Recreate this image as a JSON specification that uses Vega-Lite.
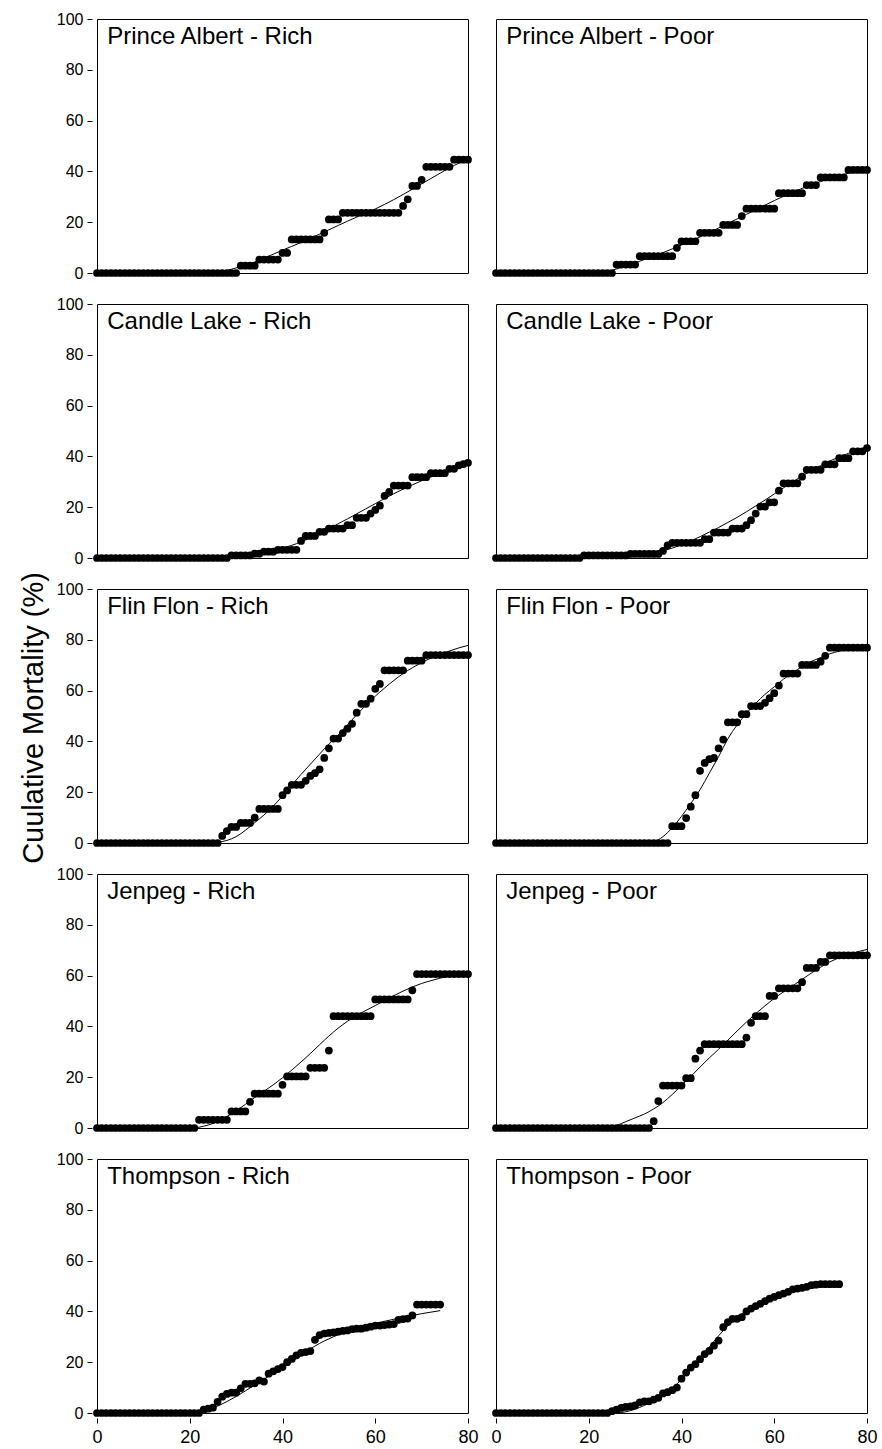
{
"$schema": "https://vega.github.io/schema/vega-lite/v6.json",
"background": "white",
"padding": {"left": 19, "top": 11, "right": 5, "bottom": 2},
"data": {"values": [
{"s":"PA","g":"R","t":"Prince Albert - Rich"},
{"s":"PA","g":"P","t":"Prince Albert - Poor"},
{"s":"CL","g":"R","t":"Candle Lake - Rich"},
{"s":"CL","g":"P","t":"Candle Lake - Poor"},
{"s":"FF","g":"R","t":"Flin Flon - Rich"},
{"s":"FF","g":"P","t":"Flin Flon - Poor"},
{"s":"JP","g":"R","t":"Jenpeg - Rich"},
{"s":"JP","g":"P","t":"Jenpeg - Poor"},
{"s":"TH","g":"R","t":"Thompson - Rich"},
{"s":"TH","g":"P","t":"Thompson - Poor"},
{"s":"PA","g":"R","d":0,"m":0,"f":0},{"s":"PA","g":"R","d":1,"m":0},{"s":"PA","g":"R","d":2,"m":0,"f":0},{"s":"PA","g":"R","d":3,"m":0},{"s":"PA","g":"R","d":4,"m":0,"f":0},{"s":"PA","g":"R","d":5,"m":0},{"s":"PA","g":"R","d":6,"m":0,"f":0},{"s":"PA","g":"R","d":7,"m":0},{"s":"PA","g":"R","d":8,"m":0,"f":0},{"s":"PA","g":"R","d":9,"m":0},{"s":"PA","g":"R","d":10,"m":0,"f":0},{"s":"PA","g":"R","d":11,"m":0},{"s":"PA","g":"R","d":12,"m":0,"f":0},{"s":"PA","g":"R","d":13,"m":0},{"s":"PA","g":"R","d":14,"m":0,"f":0},{"s":"PA","g":"R","d":15,"m":0},{"s":"PA","g":"R","d":16,"m":0,"f":0},{"s":"PA","g":"R","d":17,"m":0},{"s":"PA","g":"R","d":18,"m":0,"f":0},{"s":"PA","g":"R","d":19,"m":0},{"s":"PA","g":"R","d":20,"m":0,"f":0},{"s":"PA","g":"R","d":21,"m":0},{"s":"PA","g":"R","d":22,"m":0,"f":0},{"s":"PA","g":"R","d":23,"m":0},{"s":"PA","g":"R","d":24,"m":0,"f":0},{"s":"PA","g":"R","d":25,"m":0},{"s":"PA","g":"R","d":26,"m":0,"f":0.4},{"s":"PA","g":"R","d":27,"m":0},{"s":"PA","g":"R","d":28,"m":0,"f":1},{"s":"PA","g":"R","d":29,"m":0},{"s":"PA","g":"R","d":30,"m":0,"f":2},{"s":"PA","g":"R","d":31,"m":2.9},{"s":"PA","g":"R","d":32,"m":2.9,"f":3},{"s":"PA","g":"R","d":33,"m":2.9},{"s":"PA","g":"R","d":34,"m":2.9,"f":4.3},{"s":"PA","g":"R","d":35,"m":5.3},{"s":"PA","g":"R","d":36,"m":5.3,"f":5.8},{"s":"PA","g":"R","d":37,"m":5.3},{"s":"PA","g":"R","d":38,"m":5.3,"f":7.4},{"s":"PA","g":"R","d":39,"m":5.3},{"s":"PA","g":"R","d":40,"m":7.9,"f":9},{"s":"PA","g":"R","d":41,"m":7.9},{"s":"PA","g":"R","d":42,"m":13.2,"f":10.5},{"s":"PA","g":"R","d":43,"m":13.2},{"s":"PA","g":"R","d":44,"m":13.2,"f":12},{"s":"PA","g":"R","d":45,"m":13.2},{"s":"PA","g":"R","d":46,"m":13.2,"f":13.7},{"s":"PA","g":"R","d":47,"m":13.2},{"s":"PA","g":"R","d":48,"m":13.2,"f":15.3},{"s":"PA","g":"R","d":49,"m":15.8},{"s":"PA","g":"R","d":50,"m":21.1,"f":17},{"s":"PA","g":"R","d":51,"m":21.1},{"s":"PA","g":"R","d":52,"m":21.1,"f":18.7},{"s":"PA","g":"R","d":53,"m":23.7},{"s":"PA","g":"R","d":54,"m":23.7,"f":20.4},{"s":"PA","g":"R","d":55,"m":23.7},{"s":"PA","g":"R","d":56,"m":23.7,"f":22},{"s":"PA","g":"R","d":57,"m":23.7},{"s":"PA","g":"R","d":58,"m":23.7,"f":23.6},{"s":"PA","g":"R","d":59,"m":23.7},{"s":"PA","g":"R","d":60,"m":23.7,"f":25.2},{"s":"PA","g":"R","d":61,"m":23.7},{"s":"PA","g":"R","d":62,"m":23.7,"f":27},{"s":"PA","g":"R","d":63,"m":23.7},{"s":"PA","g":"R","d":64,"m":23.7,"f":28.9},{"s":"PA","g":"R","d":65,"m":23.7},{"s":"PA","g":"R","d":66,"m":26.4,"f":30.9},{"s":"PA","g":"R","d":67,"m":29},{"s":"PA","g":"R","d":68,"m":34.3,"f":33},{"s":"PA","g":"R","d":69,"m":34.3},{"s":"PA","g":"R","d":70,"m":36.7,"f":35.1},{"s":"PA","g":"R","d":71,"m":41.8},{"s":"PA","g":"R","d":72,"m":41.8,"f":37.2},{"s":"PA","g":"R","d":73,"m":41.8},{"s":"PA","g":"R","d":74,"m":41.8,"f":39.3},{"s":"PA","g":"R","d":75,"m":41.8},{"s":"PA","g":"R","d":76,"m":41.8,"f":41.4},{"s":"PA","g":"R","d":77,"m":44.6},{"s":"PA","g":"R","d":78,"m":44.6,"f":43.2},{"s":"PA","g":"R","d":79,"m":44.6},{"s":"PA","g":"R","d":80,"m":44.6,"f":44.8},
{"s":"PA","g":"P","d":0,"m":0,"f":0},{"s":"PA","g":"P","d":1,"m":0},{"s":"PA","g":"P","d":2,"m":0,"f":0},{"s":"PA","g":"P","d":3,"m":0},{"s":"PA","g":"P","d":4,"m":0,"f":0},{"s":"PA","g":"P","d":5,"m":0},{"s":"PA","g":"P","d":6,"m":0,"f":0},{"s":"PA","g":"P","d":7,"m":0},{"s":"PA","g":"P","d":8,"m":0,"f":0},{"s":"PA","g":"P","d":9,"m":0},{"s":"PA","g":"P","d":10,"m":0,"f":0},{"s":"PA","g":"P","d":11,"m":0},{"s":"PA","g":"P","d":12,"m":0,"f":0},{"s":"PA","g":"P","d":13,"m":0},{"s":"PA","g":"P","d":14,"m":0,"f":0},{"s":"PA","g":"P","d":15,"m":0},{"s":"PA","g":"P","d":16,"m":0,"f":0},{"s":"PA","g":"P","d":17,"m":0},{"s":"PA","g":"P","d":18,"m":0,"f":0},{"s":"PA","g":"P","d":19,"m":0},{"s":"PA","g":"P","d":20,"m":0,"f":0},{"s":"PA","g":"P","d":21,"m":0},{"s":"PA","g":"P","d":22,"m":0,"f":0},{"s":"PA","g":"P","d":23,"m":0},{"s":"PA","g":"P","d":24,"m":0,"f":0.5},{"s":"PA","g":"P","d":25,"m":0},{"s":"PA","g":"P","d":26,"m":3.3,"f":1.6},{"s":"PA","g":"P","d":27,"m":3.3},{"s":"PA","g":"P","d":28,"m":3.3,"f":2.8},{"s":"PA","g":"P","d":29,"m":3.3},{"s":"PA","g":"P","d":30,"m":3.3,"f":4},{"s":"PA","g":"P","d":31,"m":6.6},{"s":"PA","g":"P","d":32,"m":6.6,"f":5.3},{"s":"PA","g":"P","d":33,"m":6.6},{"s":"PA","g":"P","d":34,"m":6.6,"f":6.6},{"s":"PA","g":"P","d":35,"m":6.6},{"s":"PA","g":"P","d":36,"m":6.6,"f":8},{"s":"PA","g":"P","d":37,"m":6.6},{"s":"PA","g":"P","d":38,"m":6.6,"f":9.5},{"s":"PA","g":"P","d":39,"m":9.9},{"s":"PA","g":"P","d":40,"m":12.5,"f":11},{"s":"PA","g":"P","d":41,"m":12.5},{"s":"PA","g":"P","d":42,"m":12.5,"f":12.6},{"s":"PA","g":"P","d":43,"m":12.5},{"s":"PA","g":"P","d":44,"m":15.8,"f":14.2},{"s":"PA","g":"P","d":45,"m":15.8},{"s":"PA","g":"P","d":46,"m":15.8,"f":15.9},{"s":"PA","g":"P","d":47,"m":15.8},{"s":"PA","g":"P","d":48,"m":15.8,"f":17.7},{"s":"PA","g":"P","d":49,"m":18.9},{"s":"PA","g":"P","d":50,"m":18.9,"f":19.5},{"s":"PA","g":"P","d":51,"m":18.9},{"s":"PA","g":"P","d":52,"m":18.9,"f":21.3},{"s":"PA","g":"P","d":53,"m":22.4},{"s":"PA","g":"P","d":54,"m":25.3,"f":23.1},{"s":"PA","g":"P","d":55,"m":25.3},{"s":"PA","g":"P","d":56,"m":25.3,"f":24.9},{"s":"PA","g":"P","d":57,"m":25.3},{"s":"PA","g":"P","d":58,"m":25.3,"f":26.7},{"s":"PA","g":"P","d":59,"m":25.3},{"s":"PA","g":"P","d":60,"m":25.3,"f":28.5},{"s":"PA","g":"P","d":61,"m":31.4},{"s":"PA","g":"P","d":62,"m":31.4,"f":30.2},{"s":"PA","g":"P","d":63,"m":31.4},{"s":"PA","g":"P","d":64,"m":31.4,"f":31.8},{"s":"PA","g":"P","d":65,"m":31.4},{"s":"PA","g":"P","d":66,"m":31.4,"f":33.3},{"s":"PA","g":"P","d":67,"m":34.6},{"s":"PA","g":"P","d":68,"m":34.6,"f":34.7},{"s":"PA","g":"P","d":69,"m":34.6},{"s":"PA","g":"P","d":70,"m":37.6,"f":36},{"s":"PA","g":"P","d":71,"m":37.6},{"s":"PA","g":"P","d":72,"m":37.6,"f":37.2},{"s":"PA","g":"P","d":73,"m":37.6},{"s":"PA","g":"P","d":74,"m":37.6,"f":38.3},{"s":"PA","g":"P","d":75,"m":37.6},{"s":"PA","g":"P","d":76,"m":40.6,"f":39.3},{"s":"PA","g":"P","d":77,"m":40.6},{"s":"PA","g":"P","d":78,"m":40.6,"f":40.2},{"s":"PA","g":"P","d":79,"m":40.6},{"s":"PA","g":"P","d":80,"m":40.6,"f":41},
{"s":"CL","g":"R","d":0,"m":0,"f":0},{"s":"CL","g":"R","d":1,"m":0},{"s":"CL","g":"R","d":2,"m":0,"f":0},{"s":"CL","g":"R","d":3,"m":0},{"s":"CL","g":"R","d":4,"m":0,"f":0},{"s":"CL","g":"R","d":5,"m":0},{"s":"CL","g":"R","d":6,"m":0,"f":0},{"s":"CL","g":"R","d":7,"m":0},{"s":"CL","g":"R","d":8,"m":0,"f":0},{"s":"CL","g":"R","d":9,"m":0},{"s":"CL","g":"R","d":10,"m":0,"f":0},{"s":"CL","g":"R","d":11,"m":0},{"s":"CL","g":"R","d":12,"m":0,"f":0},{"s":"CL","g":"R","d":13,"m":0},{"s":"CL","g":"R","d":14,"m":0,"f":0},{"s":"CL","g":"R","d":15,"m":0},{"s":"CL","g":"R","d":16,"m":0,"f":0},{"s":"CL","g":"R","d":17,"m":0},{"s":"CL","g":"R","d":18,"m":0,"f":0},{"s":"CL","g":"R","d":19,"m":0},{"s":"CL","g":"R","d":20,"m":0,"f":0},{"s":"CL","g":"R","d":21,"m":0},{"s":"CL","g":"R","d":22,"m":0,"f":0},{"s":"CL","g":"R","d":23,"m":0},{"s":"CL","g":"R","d":24,"m":0,"f":0},{"s":"CL","g":"R","d":25,"m":0},{"s":"CL","g":"R","d":26,"m":0,"f":0},{"s":"CL","g":"R","d":27,"m":0},{"s":"CL","g":"R","d":28,"m":0,"f":0.2},{"s":"CL","g":"R","d":29,"m":1},{"s":"CL","g":"R","d":30,"m":1,"f":0.5},{"s":"CL","g":"R","d":31,"m":1},{"s":"CL","g":"R","d":32,"m":1,"f":0.9},{"s":"CL","g":"R","d":33,"m":1},{"s":"CL","g":"R","d":34,"m":1.7,"f":1.5},{"s":"CL","g":"R","d":35,"m":1.7},{"s":"CL","g":"R","d":36,"m":2.5,"f":2.3},{"s":"CL","g":"R","d":37,"m":2.5},{"s":"CL","g":"R","d":38,"m":2.5,"f":3.1},{"s":"CL","g":"R","d":39,"m":3.2},{"s":"CL","g":"R","d":40,"m":3.2,"f":3.9},{"s":"CL","g":"R","d":41,"m":3.2},{"s":"CL","g":"R","d":42,"m":3.2,"f":5},{"s":"CL","g":"R","d":43,"m":3.2},{"s":"CL","g":"R","d":44,"m":6.7,"f":6.3},{"s":"CL","g":"R","d":45,"m":8.7},{"s":"CL","g":"R","d":46,"m":8.7,"f":7.9},{"s":"CL","g":"R","d":47,"m":8.7},{"s":"CL","g":"R","d":48,"m":10.3,"f":9.6},{"s":"CL","g":"R","d":49,"m":10.3},{"s":"CL","g":"R","d":50,"m":11.6,"f":11.5},{"s":"CL","g":"R","d":51,"m":11.6},{"s":"CL","g":"R","d":52,"m":11.6,"f":13.5},{"s":"CL","g":"R","d":53,"m":11.6},{"s":"CL","g":"R","d":54,"m":12.9,"f":15.4},{"s":"CL","g":"R","d":55,"m":12.9},{"s":"CL","g":"R","d":56,"m":15.8,"f":17.4},{"s":"CL","g":"R","d":57,"m":15.8},{"s":"CL","g":"R","d":58,"m":15.8,"f":19.4},{"s":"CL","g":"R","d":59,"m":17.5},{"s":"CL","g":"R","d":60,"m":18.9,"f":21.4},{"s":"CL","g":"R","d":61,"m":20.6},{"s":"CL","g":"R","d":62,"m":24.5,"f":23.4},{"s":"CL","g":"R","d":63,"m":26},{"s":"CL","g":"R","d":64,"m":28.5,"f":25.3},{"s":"CL","g":"R","d":65,"m":28.5},{"s":"CL","g":"R","d":66,"m":28.5,"f":27.1},{"s":"CL","g":"R","d":67,"m":28.5},{"s":"CL","g":"R","d":68,"m":31.8,"f":28.8},{"s":"CL","g":"R","d":69,"m":31.8},{"s":"CL","g":"R","d":70,"m":31.8,"f":30.4},{"s":"CL","g":"R","d":71,"m":31.8},{"s":"CL","g":"R","d":72,"m":33.4,"f":31.9},{"s":"CL","g":"R","d":73,"m":33.4},{"s":"CL","g":"R","d":74,"m":33.4,"f":33.3},{"s":"CL","g":"R","d":75,"m":33.4},{"s":"CL","g":"R","d":76,"m":35.1,"f":34.6},{"s":"CL","g":"R","d":77,"m":35.1},{"s":"CL","g":"R","d":78,"m":36.5,"f":35.8},{"s":"CL","g":"R","d":79,"m":37},{"s":"CL","g":"R","d":80,"m":37.5,"f":37},
{"s":"CL","g":"P","d":0,"m":0,"f":0},{"s":"CL","g":"P","d":1,"m":0},{"s":"CL","g":"P","d":2,"m":0,"f":0},{"s":"CL","g":"P","d":3,"m":0},{"s":"CL","g":"P","d":4,"m":0,"f":0},{"s":"CL","g":"P","d":5,"m":0},{"s":"CL","g":"P","d":6,"m":0,"f":0},{"s":"CL","g":"P","d":7,"m":0},{"s":"CL","g":"P","d":8,"m":0,"f":0},{"s":"CL","g":"P","d":9,"m":0},{"s":"CL","g":"P","d":10,"m":0,"f":0},{"s":"CL","g":"P","d":11,"m":0},{"s":"CL","g":"P","d":12,"m":0,"f":0},{"s":"CL","g":"P","d":13,"m":0},{"s":"CL","g":"P","d":14,"m":0,"f":0},{"s":"CL","g":"P","d":15,"m":0},{"s":"CL","g":"P","d":16,"m":0,"f":0},{"s":"CL","g":"P","d":17,"m":0},{"s":"CL","g":"P","d":18,"m":0,"f":0},{"s":"CL","g":"P","d":19,"m":1},{"s":"CL","g":"P","d":20,"m":1,"f":0},{"s":"CL","g":"P","d":21,"m":1},{"s":"CL","g":"P","d":22,"m":1,"f":0},{"s":"CL","g":"P","d":23,"m":1},{"s":"CL","g":"P","d":24,"m":1,"f":0},{"s":"CL","g":"P","d":25,"m":1},{"s":"CL","g":"P","d":26,"m":1,"f":0},{"s":"CL","g":"P","d":27,"m":1},{"s":"CL","g":"P","d":28,"m":1,"f":0.3},{"s":"CL","g":"P","d":29,"m":1.6},{"s":"CL","g":"P","d":30,"m":1.6,"f":0.7},{"s":"CL","g":"P","d":31,"m":1.6},{"s":"CL","g":"P","d":32,"m":1.6,"f":1.2},{"s":"CL","g":"P","d":33,"m":1.6},{"s":"CL","g":"P","d":34,"m":1.6,"f":1.9},{"s":"CL","g":"P","d":35,"m":1.6},{"s":"CL","g":"P","d":36,"m":2.8,"f":2.8},{"s":"CL","g":"P","d":37,"m":5},{"s":"CL","g":"P","d":38,"m":6,"f":3.9},{"s":"CL","g":"P","d":39,"m":6},{"s":"CL","g":"P","d":40,"m":6,"f":5.2},{"s":"CL","g":"P","d":41,"m":6},{"s":"CL","g":"P","d":42,"m":6,"f":6.7},{"s":"CL","g":"P","d":43,"m":6},{"s":"CL","g":"P","d":44,"m":6,"f":8.4},{"s":"CL","g":"P","d":45,"m":7.4},{"s":"CL","g":"P","d":46,"m":7.4,"f":10.2},{"s":"CL","g":"P","d":47,"m":10},{"s":"CL","g":"P","d":48,"m":10,"f":12},{"s":"CL","g":"P","d":49,"m":10},{"s":"CL","g":"P","d":50,"m":10,"f":14},{"s":"CL","g":"P","d":51,"m":11.6},{"s":"CL","g":"P","d":52,"m":11.6,"f":16},{"s":"CL","g":"P","d":53,"m":11.6},{"s":"CL","g":"P","d":54,"m":12.9,"f":18.2},{"s":"CL","g":"P","d":55,"m":14.9},{"s":"CL","g":"P","d":56,"m":17.5,"f":20.5},{"s":"CL","g":"P","d":57,"m":20.2},{"s":"CL","g":"P","d":58,"m":20.2,"f":22.8},{"s":"CL","g":"P","d":59,"m":21.9},{"s":"CL","g":"P","d":60,"m":21.9,"f":25.2},{"s":"CL","g":"P","d":61,"m":26.5},{"s":"CL","g":"P","d":62,"m":29.4,"f":27.6},{"s":"CL","g":"P","d":63,"m":29.4},{"s":"CL","g":"P","d":64,"m":29.4,"f":30},{"s":"CL","g":"P","d":65,"m":29.4},{"s":"CL","g":"P","d":66,"m":32,"f":32.3},{"s":"CL","g":"P","d":67,"m":34.7},{"s":"CL","g":"P","d":68,"m":34.7,"f":34.4},{"s":"CL","g":"P","d":69,"m":34.7},{"s":"CL","g":"P","d":70,"m":34.7,"f":36.4},{"s":"CL","g":"P","d":71,"m":36.9},{"s":"CL","g":"P","d":72,"m":36.9,"f":38.2},{"s":"CL","g":"P","d":73,"m":36.9},{"s":"CL","g":"P","d":74,"m":39.3,"f":39.8},{"s":"CL","g":"P","d":75,"m":39.3},{"s":"CL","g":"P","d":76,"m":39.3,"f":41.2},{"s":"CL","g":"P","d":77,"m":42},{"s":"CL","g":"P","d":78,"m":42,"f":42.4},{"s":"CL","g":"P","d":79,"m":42},{"s":"CL","g":"P","d":80,"m":43.3,"f":43.5},
{"s":"FF","g":"R","d":0,"m":0,"f":0},{"s":"FF","g":"R","d":1,"m":0},{"s":"FF","g":"R","d":2,"m":0,"f":0},{"s":"FF","g":"R","d":3,"m":0},{"s":"FF","g":"R","d":4,"m":0,"f":0},{"s":"FF","g":"R","d":5,"m":0},{"s":"FF","g":"R","d":6,"m":0,"f":0},{"s":"FF","g":"R","d":7,"m":0},{"s":"FF","g":"R","d":8,"m":0,"f":0},{"s":"FF","g":"R","d":9,"m":0},{"s":"FF","g":"R","d":10,"m":0,"f":0},{"s":"FF","g":"R","d":11,"m":0},{"s":"FF","g":"R","d":12,"m":0,"f":0},{"s":"FF","g":"R","d":13,"m":0},{"s":"FF","g":"R","d":14,"m":0,"f":0},{"s":"FF","g":"R","d":15,"m":0},{"s":"FF","g":"R","d":16,"m":0,"f":0},{"s":"FF","g":"R","d":17,"m":0},{"s":"FF","g":"R","d":18,"m":0,"f":0},{"s":"FF","g":"R","d":19,"m":0},{"s":"FF","g":"R","d":20,"m":0,"f":0},{"s":"FF","g":"R","d":21,"m":0},{"s":"FF","g":"R","d":22,"m":0,"f":0},{"s":"FF","g":"R","d":23,"m":0},{"s":"FF","g":"R","d":24,"m":0,"f":0},{"s":"FF","g":"R","d":25,"m":0},{"s":"FF","g":"R","d":26,"m":0,"f":0.3},{"s":"FF","g":"R","d":27,"m":2.8},{"s":"FF","g":"R","d":28,"m":4.7,"f":1},{"s":"FF","g":"R","d":29,"m":6.3},{"s":"FF","g":"R","d":30,"m":6.3,"f":2.5},{"s":"FF","g":"R","d":31,"m":7.9},{"s":"FF","g":"R","d":32,"m":7.9,"f":5},{"s":"FF","g":"R","d":33,"m":7.9},{"s":"FF","g":"R","d":34,"m":10,"f":8},{"s":"FF","g":"R","d":35,"m":13.4},{"s":"FF","g":"R","d":36,"m":13.4,"f":11},{"s":"FF","g":"R","d":37,"m":13.4},{"s":"FF","g":"R","d":38,"m":13.4,"f":14.5},{"s":"FF","g":"R","d":39,"m":13.4},{"s":"FF","g":"R","d":40,"m":18.8,"f":18.5},{"s":"FF","g":"R","d":41,"m":20.7},{"s":"FF","g":"R","d":42,"m":22.9,"f":22.8},{"s":"FF","g":"R","d":43,"m":22.9},{"s":"FF","g":"R","d":44,"m":22.9,"f":27},{"s":"FF","g":"R","d":45,"m":24.5},{"s":"FF","g":"R","d":46,"m":26.4,"f":31},{"s":"FF","g":"R","d":47,"m":27.5},{"s":"FF","g":"R","d":48,"m":29,"f":35},{"s":"FF","g":"R","d":49,"m":33.5},{"s":"FF","g":"R","d":50,"m":37.3,"f":39},{"s":"FF","g":"R","d":51,"m":41.1},{"s":"FF","g":"R","d":52,"m":41.1,"f":42.5},{"s":"FF","g":"R","d":53,"m":43.3},{"s":"FF","g":"R","d":54,"m":45,"f":46.5},{"s":"FF","g":"R","d":55,"m":46.9},{"s":"FF","g":"R","d":56,"m":51.3,"f":50.5},{"s":"FF","g":"R","d":57,"m":54.8},{"s":"FF","g":"R","d":58,"m":54.8,"f":54.3},{"s":"FF","g":"R","d":59,"m":56.8},{"s":"FF","g":"R","d":60,"m":60.7,"f":57.8},{"s":"FF","g":"R","d":61,"m":62.6},{"s":"FF","g":"R","d":62,"m":68,"f":61},{"s":"FF","g":"R","d":63,"m":68},{"s":"FF","g":"R","d":64,"m":68,"f":64},{"s":"FF","g":"R","d":65,"m":68},{"s":"FF","g":"R","d":66,"m":68,"f":66.7},{"s":"FF","g":"R","d":67,"m":71.8},{"s":"FF","g":"R","d":68,"m":71.8,"f":69},{"s":"FF","g":"R","d":69,"m":71.8},{"s":"FF","g":"R","d":70,"m":71.8,"f":71},{"s":"FF","g":"R","d":71,"m":74},{"s":"FF","g":"R","d":72,"m":74,"f":72.8},{"s":"FF","g":"R","d":73,"m":74},{"s":"FF","g":"R","d":74,"m":74,"f":74.3},{"s":"FF","g":"R","d":75,"m":74},{"s":"FF","g":"R","d":76,"m":74,"f":75.6},{"s":"FF","g":"R","d":77,"m":74},{"s":"FF","g":"R","d":78,"m":74,"f":76.8},{"s":"FF","g":"R","d":79,"m":74},{"s":"FF","g":"R","d":80,"m":74,"f":77.8},
{"s":"FF","g":"P","d":0,"m":0,"f":0},{"s":"FF","g":"P","d":1,"m":0},{"s":"FF","g":"P","d":2,"m":0,"f":0},{"s":"FF","g":"P","d":3,"m":0},{"s":"FF","g":"P","d":4,"m":0,"f":0},{"s":"FF","g":"P","d":5,"m":0},{"s":"FF","g":"P","d":6,"m":0,"f":0},{"s":"FF","g":"P","d":7,"m":0},{"s":"FF","g":"P","d":8,"m":0,"f":0},{"s":"FF","g":"P","d":9,"m":0},{"s":"FF","g":"P","d":10,"m":0,"f":0},{"s":"FF","g":"P","d":11,"m":0},{"s":"FF","g":"P","d":12,"m":0,"f":0},{"s":"FF","g":"P","d":13,"m":0},{"s":"FF","g":"P","d":14,"m":0,"f":0},{"s":"FF","g":"P","d":15,"m":0},{"s":"FF","g":"P","d":16,"m":0,"f":0},{"s":"FF","g":"P","d":17,"m":0},{"s":"FF","g":"P","d":18,"m":0,"f":0},{"s":"FF","g":"P","d":19,"m":0},{"s":"FF","g":"P","d":20,"m":0,"f":0},{"s":"FF","g":"P","d":21,"m":0},{"s":"FF","g":"P","d":22,"m":0,"f":0},{"s":"FF","g":"P","d":23,"m":0},{"s":"FF","g":"P","d":24,"m":0,"f":0},{"s":"FF","g":"P","d":25,"m":0},{"s":"FF","g":"P","d":26,"m":0,"f":0},{"s":"FF","g":"P","d":27,"m":0},{"s":"FF","g":"P","d":28,"m":0,"f":0},{"s":"FF","g":"P","d":29,"m":0},{"s":"FF","g":"P","d":30,"m":0,"f":0},{"s":"FF","g":"P","d":31,"m":0},{"s":"FF","g":"P","d":32,"m":0,"f":0},{"s":"FF","g":"P","d":33,"m":0},{"s":"FF","g":"P","d":34,"m":0,"f":0.5},{"s":"FF","g":"P","d":35,"m":0},{"s":"FF","g":"P","d":36,"m":0,"f":2.5},{"s":"FF","g":"P","d":37,"m":0},{"s":"FF","g":"P","d":38,"m":6.6,"f":6},{"s":"FF","g":"P","d":39,"m":6.6},{"s":"FF","g":"P","d":40,"m":6.6,"f":10.5},{"s":"FF","g":"P","d":41,"m":9.8},{"s":"FF","g":"P","d":42,"m":14.3,"f":15.5},{"s":"FF","g":"P","d":43,"m":18.8},{"s":"FF","g":"P","d":44,"m":28.4,"f":21},{"s":"FF","g":"P","d":45,"m":31.5},{"s":"FF","g":"P","d":46,"m":33,"f":27.5},{"s":"FF","g":"P","d":47,"m":33.5},{"s":"FF","g":"P","d":48,"m":37.3,"f":34},{"s":"FF","g":"P","d":49,"m":40.7},{"s":"FF","g":"P","d":50,"m":47.5,"f":41},{"s":"FF","g":"P","d":51,"m":47.5},{"s":"FF","g":"P","d":52,"m":47.5,"f":46.5},{"s":"FF","g":"P","d":53,"m":50.7},{"s":"FF","g":"P","d":54,"m":50.7,"f":51},{"s":"FF","g":"P","d":55,"m":53.9},{"s":"FF","g":"P","d":56,"m":53.9,"f":55},{"s":"FF","g":"P","d":57,"m":53.9},{"s":"FF","g":"P","d":58,"m":55.2,"f":58.5},{"s":"FF","g":"P","d":59,"m":57},{"s":"FF","g":"P","d":60,"m":59,"f":61.5},{"s":"FF","g":"P","d":61,"m":62},{"s":"FF","g":"P","d":62,"m":66.7,"f":64.5},{"s":"FF","g":"P","d":63,"m":66.7},{"s":"FF","g":"P","d":64,"m":66.7,"f":67},{"s":"FF","g":"P","d":65,"m":66.7},{"s":"FF","g":"P","d":66,"m":70.1,"f":69.5},{"s":"FF","g":"P","d":67,"m":70.1},{"s":"FF","g":"P","d":68,"m":70.1,"f":71.5},{"s":"FF","g":"P","d":69,"m":70.1},{"s":"FF","g":"P","d":70,"m":71.4,"f":73},{"s":"FF","g":"P","d":71,"m":73.7},{"s":"FF","g":"P","d":72,"m":76.9,"f":74.5},{"s":"FF","g":"P","d":73,"m":76.9},{"s":"FF","g":"P","d":74,"m":76.9,"f":75.5},{"s":"FF","g":"P","d":75,"m":76.9},{"s":"FF","g":"P","d":76,"m":76.9,"f":76.2},{"s":"FF","g":"P","d":77,"m":76.9},{"s":"FF","g":"P","d":78,"m":76.9,"f":76.7},{"s":"FF","g":"P","d":79,"m":76.9},{"s":"FF","g":"P","d":80,"m":76.9,"f":77},
{"s":"JP","g":"R","d":0,"m":0,"f":0},{"s":"JP","g":"R","d":1,"m":0},{"s":"JP","g":"R","d":2,"m":0,"f":0},{"s":"JP","g":"R","d":3,"m":0},{"s":"JP","g":"R","d":4,"m":0,"f":0},{"s":"JP","g":"R","d":5,"m":0},{"s":"JP","g":"R","d":6,"m":0,"f":0},{"s":"JP","g":"R","d":7,"m":0},{"s":"JP","g":"R","d":8,"m":0,"f":0},{"s":"JP","g":"R","d":9,"m":0},{"s":"JP","g":"R","d":10,"m":0,"f":0},{"s":"JP","g":"R","d":11,"m":0},{"s":"JP","g":"R","d":12,"m":0,"f":0},{"s":"JP","g":"R","d":13,"m":0},{"s":"JP","g":"R","d":14,"m":0,"f":0},{"s":"JP","g":"R","d":15,"m":0},{"s":"JP","g":"R","d":16,"m":0,"f":0},{"s":"JP","g":"R","d":17,"m":0},{"s":"JP","g":"R","d":18,"m":0,"f":0},{"s":"JP","g":"R","d":19,"m":0},{"s":"JP","g":"R","d":20,"m":0,"f":0},{"s":"JP","g":"R","d":21,"m":0},{"s":"JP","g":"R","d":22,"m":3.2,"f":0.3},{"s":"JP","g":"R","d":23,"m":3.2},{"s":"JP","g":"R","d":24,"m":3.2,"f":1.2},{"s":"JP","g":"R","d":25,"m":3.2},{"s":"JP","g":"R","d":26,"m":3.2,"f":2.5},{"s":"JP","g":"R","d":27,"m":3.2},{"s":"JP","g":"R","d":28,"m":3.2,"f":4.5},{"s":"JP","g":"R","d":29,"m":6.5},{"s":"JP","g":"R","d":30,"m":6.5,"f":6.8},{"s":"JP","g":"R","d":31,"m":6.5},{"s":"JP","g":"R","d":32,"m":6.5,"f":9.3},{"s":"JP","g":"R","d":33,"m":10.3},{"s":"JP","g":"R","d":34,"m":13.5,"f":12},{"s":"JP","g":"R","d":35,"m":13.5},{"s":"JP","g":"R","d":36,"m":13.5,"f":14.5},{"s":"JP","g":"R","d":37,"m":13.5},{"s":"JP","g":"R","d":38,"m":13.5,"f":17},{"s":"JP","g":"R","d":39,"m":13.5},{"s":"JP","g":"R","d":40,"m":17,"f":19.8},{"s":"JP","g":"R","d":41,"m":20.3},{"s":"JP","g":"R","d":42,"m":20.3,"f":22.8},{"s":"JP","g":"R","d":43,"m":20.3},{"s":"JP","g":"R","d":44,"m":20.3,"f":26},{"s":"JP","g":"R","d":45,"m":20.3},{"s":"JP","g":"R","d":46,"m":23.7,"f":29.3},{"s":"JP","g":"R","d":47,"m":23.7},{"s":"JP","g":"R","d":48,"m":23.7,"f":32.8},{"s":"JP","g":"R","d":49,"m":23.7},{"s":"JP","g":"R","d":50,"m":30.5,"f":36.2},{"s":"JP","g":"R","d":51,"m":44},{"s":"JP","g":"R","d":52,"m":44,"f":39.3},{"s":"JP","g":"R","d":53,"m":44},{"s":"JP","g":"R","d":54,"m":44,"f":42},{"s":"JP","g":"R","d":55,"m":44},{"s":"JP","g":"R","d":56,"m":44,"f":44.3},{"s":"JP","g":"R","d":57,"m":44},{"s":"JP","g":"R","d":58,"m":44,"f":46.3},{"s":"JP","g":"R","d":59,"m":44},{"s":"JP","g":"R","d":60,"m":50.6,"f":48.2},{"s":"JP","g":"R","d":61,"m":50.6},{"s":"JP","g":"R","d":62,"m":50.6,"f":50.2},{"s":"JP","g":"R","d":63,"m":50.6},{"s":"JP","g":"R","d":64,"m":50.6,"f":52.1},{"s":"JP","g":"R","d":65,"m":50.6},{"s":"JP","g":"R","d":66,"m":50.6,"f":53.9},{"s":"JP","g":"R","d":67,"m":50.6},{"s":"JP","g":"R","d":68,"m":54.2,"f":55.5},{"s":"JP","g":"R","d":69,"m":60.6},{"s":"JP","g":"R","d":70,"m":60.6,"f":56.9},{"s":"JP","g":"R","d":71,"m":60.6},{"s":"JP","g":"R","d":72,"m":60.6,"f":58},{"s":"JP","g":"R","d":73,"m":60.6},{"s":"JP","g":"R","d":74,"m":60.6,"f":59},{"s":"JP","g":"R","d":75,"m":60.6},{"s":"JP","g":"R","d":76,"m":60.6,"f":59.8},{"s":"JP","g":"R","d":77,"m":60.6},{"s":"JP","g":"R","d":78,"m":60.6,"f":60.5},{"s":"JP","g":"R","d":79,"m":60.6},{"s":"JP","g":"R","d":80,"m":60.6,"f":61},
{"s":"JP","g":"P","d":0,"m":0,"f":0},{"s":"JP","g":"P","d":1,"m":0},{"s":"JP","g":"P","d":2,"m":0,"f":0},{"s":"JP","g":"P","d":3,"m":0},{"s":"JP","g":"P","d":4,"m":0,"f":0},{"s":"JP","g":"P","d":5,"m":0},{"s":"JP","g":"P","d":6,"m":0,"f":0},{"s":"JP","g":"P","d":7,"m":0},{"s":"JP","g":"P","d":8,"m":0,"f":0},{"s":"JP","g":"P","d":9,"m":0},{"s":"JP","g":"P","d":10,"m":0,"f":0},{"s":"JP","g":"P","d":11,"m":0},{"s":"JP","g":"P","d":12,"m":0,"f":0},{"s":"JP","g":"P","d":13,"m":0},{"s":"JP","g":"P","d":14,"m":0,"f":0},{"s":"JP","g":"P","d":15,"m":0},{"s":"JP","g":"P","d":16,"m":0,"f":0},{"s":"JP","g":"P","d":17,"m":0},{"s":"JP","g":"P","d":18,"m":0,"f":0},{"s":"JP","g":"P","d":19,"m":0},{"s":"JP","g":"P","d":20,"m":0,"f":0},{"s":"JP","g":"P","d":21,"m":0},{"s":"JP","g":"P","d":22,"m":0,"f":0},{"s":"JP","g":"P","d":23,"m":0},{"s":"JP","g":"P","d":24,"m":0,"f":0},{"s":"JP","g":"P","d":25,"m":0},{"s":"JP","g":"P","d":26,"m":0,"f":1},{"s":"JP","g":"P","d":27,"m":0},{"s":"JP","g":"P","d":28,"m":0,"f":2.5},{"s":"JP","g":"P","d":29,"m":0},{"s":"JP","g":"P","d":30,"m":0,"f":4},{"s":"JP","g":"P","d":31,"m":0},{"s":"JP","g":"P","d":32,"m":0,"f":5.5},{"s":"JP","g":"P","d":33,"m":0},{"s":"JP","g":"P","d":34,"m":2.7,"f":7.5},{"s":"JP","g":"P","d":35,"m":10.6},{"s":"JP","g":"P","d":36,"m":16.7,"f":10},{"s":"JP","g":"P","d":37,"m":16.7},{"s":"JP","g":"P","d":38,"m":16.7,"f":13.2},{"s":"JP","g":"P","d":39,"m":16.7},{"s":"JP","g":"P","d":40,"m":16.7,"f":16.7},{"s":"JP","g":"P","d":41,"m":19.6},{"s":"JP","g":"P","d":42,"m":19.6,"f":20.3},{"s":"JP","g":"P","d":43,"m":27.3},{"s":"JP","g":"P","d":44,"m":30.5,"f":24},{"s":"JP","g":"P","d":45,"m":33},{"s":"JP","g":"P","d":46,"m":33,"f":27.6},{"s":"JP","g":"P","d":47,"m":33},{"s":"JP","g":"P","d":48,"m":33,"f":31},{"s":"JP","g":"P","d":49,"m":33},{"s":"JP","g":"P","d":50,"m":33,"f":34.6},{"s":"JP","g":"P","d":51,"m":33},{"s":"JP","g":"P","d":52,"m":33,"f":38.2},{"s":"JP","g":"P","d":53,"m":33},{"s":"JP","g":"P","d":54,"m":35.6,"f":41.7},{"s":"JP","g":"P","d":55,"m":41.4},{"s":"JP","g":"P","d":56,"m":44,"f":45},{"s":"JP","g":"P","d":57,"m":44},{"s":"JP","g":"P","d":58,"m":44,"f":48.1},{"s":"JP","g":"P","d":59,"m":52},{"s":"JP","g":"P","d":60,"m":52,"f":51},{"s":"JP","g":"P","d":61,"m":55},{"s":"JP","g":"P","d":62,"m":55,"f":53.6},{"s":"JP","g":"P","d":63,"m":55},{"s":"JP","g":"P","d":64,"m":55,"f":56},{"s":"JP","g":"P","d":65,"m":55},{"s":"JP","g":"P","d":66,"m":57.4,"f":58.5},{"s":"JP","g":"P","d":67,"m":63},{"s":"JP","g":"P","d":68,"m":63,"f":61},{"s":"JP","g":"P","d":69,"m":63},{"s":"JP","g":"P","d":70,"m":65.4,"f":63.3},{"s":"JP","g":"P","d":71,"m":65.4},{"s":"JP","g":"P","d":72,"m":68,"f":65.4},{"s":"JP","g":"P","d":73,"m":68},{"s":"JP","g":"P","d":74,"m":68,"f":67},{"s":"JP","g":"P","d":75,"m":68},{"s":"JP","g":"P","d":76,"m":68,"f":68.3},{"s":"JP","g":"P","d":77,"m":68},{"s":"JP","g":"P","d":78,"m":68,"f":69.4},{"s":"JP","g":"P","d":79,"m":68},{"s":"JP","g":"P","d":80,"m":68,"f":70.3},
{"s":"TH","g":"R","d":0,"m":0,"f":0},{"s":"TH","g":"R","d":1,"m":0},{"s":"TH","g":"R","d":2,"m":0,"f":0},{"s":"TH","g":"R","d":3,"m":0},{"s":"TH","g":"R","d":4,"m":0,"f":0},{"s":"TH","g":"R","d":5,"m":0},{"s":"TH","g":"R","d":6,"m":0,"f":0},{"s":"TH","g":"R","d":7,"m":0},{"s":"TH","g":"R","d":8,"m":0,"f":0},{"s":"TH","g":"R","d":9,"m":0},{"s":"TH","g":"R","d":10,"m":0,"f":0},{"s":"TH","g":"R","d":11,"m":0},{"s":"TH","g":"R","d":12,"m":0,"f":0},{"s":"TH","g":"R","d":13,"m":0},{"s":"TH","g":"R","d":14,"m":0,"f":0},{"s":"TH","g":"R","d":15,"m":0},{"s":"TH","g":"R","d":16,"m":0,"f":0},{"s":"TH","g":"R","d":17,"m":0},{"s":"TH","g":"R","d":18,"m":0,"f":0},{"s":"TH","g":"R","d":19,"m":0},{"s":"TH","g":"R","d":20,"m":0,"f":0},{"s":"TH","g":"R","d":21,"m":0},{"s":"TH","g":"R","d":22,"m":0,"f":0.4},{"s":"TH","g":"R","d":23,"m":1.3},{"s":"TH","g":"R","d":24,"m":1.7,"f":1.3},{"s":"TH","g":"R","d":25,"m":2.1},{"s":"TH","g":"R","d":26,"m":4.4,"f":2.7},{"s":"TH","g":"R","d":27,"m":6.4},{"s":"TH","g":"R","d":28,"m":7.5,"f":4.5},{"s":"TH","g":"R","d":29,"m":8},{"s":"TH","g":"R","d":30,"m":8,"f":6.5},{"s":"TH","g":"R","d":31,"m":9.7},{"s":"TH","g":"R","d":32,"m":11.5,"f":8.7},{"s":"TH","g":"R","d":33,"m":11.5},{"s":"TH","g":"R","d":34,"m":11.7,"f":11},{"s":"TH","g":"R","d":35,"m":12.8},{"s":"TH","g":"R","d":36,"m":12.4,"f":13.3},{"s":"TH","g":"R","d":37,"m":15.5},{"s":"TH","g":"R","d":38,"m":16.4,"f":15.6},{"s":"TH","g":"R","d":39,"m":17.3},{"s":"TH","g":"R","d":40,"m":18.1,"f":17.9},{"s":"TH","g":"R","d":41,"m":20},{"s":"TH","g":"R","d":42,"m":21.3,"f":20.2},{"s":"TH","g":"R","d":43,"m":22.7},{"s":"TH","g":"R","d":44,"m":23.7,"f":22.6},{"s":"TH","g":"R","d":45,"m":24},{"s":"TH","g":"R","d":46,"m":24.4,"f":25.2},{"s":"TH","g":"R","d":47,"m":28.8},{"s":"TH","g":"R","d":48,"m":30.7,"f":27.4},{"s":"TH","g":"R","d":49,"m":31.3},{"s":"TH","g":"R","d":50,"m":31.5,"f":29.2},{"s":"TH","g":"R","d":51,"m":31.7},{"s":"TH","g":"R","d":52,"m":32,"f":30.8},{"s":"TH","g":"R","d":53,"m":32.3},{"s":"TH","g":"R","d":54,"m":32.5,"f":32.1},{"s":"TH","g":"R","d":55,"m":33},{"s":"TH","g":"R","d":56,"m":33.2,"f":33.2},{"s":"TH","g":"R","d":57,"m":33.2},{"s":"TH","g":"R","d":58,"m":33.6,"f":34.2},{"s":"TH","g":"R","d":59,"m":34},{"s":"TH","g":"R","d":60,"m":34.4,"f":35.2},{"s":"TH","g":"R","d":61,"m":34.4},{"s":"TH","g":"R","d":62,"m":34.6,"f":36.1},{"s":"TH","g":"R","d":63,"m":34.8},{"s":"TH","g":"R","d":64,"m":35,"f":36.9},{"s":"TH","g":"R","d":65,"m":36.7},{"s":"TH","g":"R","d":66,"m":37,"f":37.7},{"s":"TH","g":"R","d":67,"m":37.2},{"s":"TH","g":"R","d":68,"m":38.4,"f":38.4},{"s":"TH","g":"R","d":69,"m":42.7},{"s":"TH","g":"R","d":70,"m":42.7,"f":39.1},{"s":"TH","g":"R","d":71,"m":42.7},{"s":"TH","g":"R","d":72,"m":42.7,"f":39.7},{"s":"TH","g":"R","d":73,"m":42.7},{"s":"TH","g":"R","d":74,"m":42.7,"f":40.3},
{"s":"TH","g":"P","d":0,"m":0,"f":0},{"s":"TH","g":"P","d":1,"m":0},{"s":"TH","g":"P","d":2,"m":0,"f":0},{"s":"TH","g":"P","d":3,"m":0},{"s":"TH","g":"P","d":4,"m":0,"f":0},{"s":"TH","g":"P","d":5,"m":0},{"s":"TH","g":"P","d":6,"m":0,"f":0},{"s":"TH","g":"P","d":7,"m":0},{"s":"TH","g":"P","d":8,"m":0,"f":0},{"s":"TH","g":"P","d":9,"m":0},{"s":"TH","g":"P","d":10,"m":0,"f":0},{"s":"TH","g":"P","d":11,"m":0},{"s":"TH","g":"P","d":12,"m":0,"f":0},{"s":"TH","g":"P","d":13,"m":0},{"s":"TH","g":"P","d":14,"m":0,"f":0},{"s":"TH","g":"P","d":15,"m":0},{"s":"TH","g":"P","d":16,"m":0,"f":0},{"s":"TH","g":"P","d":17,"m":0},{"s":"TH","g":"P","d":18,"m":0,"f":0},{"s":"TH","g":"P","d":19,"m":0},{"s":"TH","g":"P","d":20,"m":0,"f":0},{"s":"TH","g":"P","d":21,"m":0},{"s":"TH","g":"P","d":22,"m":0,"f":0},{"s":"TH","g":"P","d":23,"m":0},{"s":"TH","g":"P","d":24,"m":0,"f":0},{"s":"TH","g":"P","d":25,"m":0.7},{"s":"TH","g":"P","d":26,"m":1.3,"f":0},{"s":"TH","g":"P","d":27,"m":2},{"s":"TH","g":"P","d":28,"m":2.4,"f":0.5},{"s":"TH","g":"P","d":29,"m":2.6},{"s":"TH","g":"P","d":30,"m":3,"f":1.5},{"s":"TH","g":"P","d":31,"m":4.2},{"s":"TH","g":"P","d":32,"m":4.6,"f":3},{"s":"TH","g":"P","d":33,"m":4.6},{"s":"TH","g":"P","d":34,"m":5.3,"f":4.8},{"s":"TH","g":"P","d":35,"m":6},{"s":"TH","g":"P","d":36,"m":7.7,"f":7},{"s":"TH","g":"P","d":37,"m":8.2},{"s":"TH","g":"P","d":38,"m":9,"f":9.8},{"s":"TH","g":"P","d":39,"m":10},{"s":"TH","g":"P","d":40,"m":13.5,"f":13.2},{"s":"TH","g":"P","d":41,"m":15.9},{"s":"TH","g":"P","d":42,"m":17.9,"f":17.2},{"s":"TH","g":"P","d":43,"m":19.2},{"s":"TH","g":"P","d":44,"m":21.2,"f":21.5},{"s":"TH","g":"P","d":45,"m":23.2},{"s":"TH","g":"P","d":46,"m":24.5,"f":26},{"s":"TH","g":"P","d":47,"m":26.5},{"s":"TH","g":"P","d":48,"m":28.5,"f":30.4},{"s":"TH","g":"P","d":49,"m":33.8},{"s":"TH","g":"P","d":50,"m":35.8,"f":34.3},{"s":"TH","g":"P","d":51,"m":37.1},{"s":"TH","g":"P","d":52,"m":37.1,"f":37.5},{"s":"TH","g":"P","d":53,"m":37.7},{"s":"TH","g":"P","d":54,"m":40,"f":40.1},{"s":"TH","g":"P","d":55,"m":41.1},{"s":"TH","g":"P","d":56,"m":42.1,"f":42.2},{"s":"TH","g":"P","d":57,"m":43},{"s":"TH","g":"P","d":58,"m":44,"f":43.9},{"s":"TH","g":"P","d":59,"m":45},{"s":"TH","g":"P","d":60,"m":45.7,"f":45.4},{"s":"TH","g":"P","d":61,"m":46.4},{"s":"TH","g":"P","d":62,"m":47,"f":46.7},{"s":"TH","g":"P","d":63,"m":47.7},{"s":"TH","g":"P","d":64,"m":48.7,"f":47.8},{"s":"TH","g":"P","d":65,"m":49},{"s":"TH","g":"P","d":66,"m":49.3,"f":48.7},{"s":"TH","g":"P","d":67,"m":49.7},{"s":"TH","g":"P","d":68,"m":50.3,"f":49.5},{"s":"TH","g":"P","d":69,"m":50.5},{"s":"TH","g":"P","d":70,"m":50.7,"f":50.1},{"s":"TH","g":"P","d":71,"m":50.7},{"s":"TH","g":"P","d":72,"m":50.7,"f":50.6},{"s":"TH","g":"P","d":73,"m":50.7},{"s":"TH","g":"P","d":74,"m":50.7,"f":51}
]},
"facet": {
  "row": {"field": "s", "type": "nominal", "sort": ["PA","CL","FF","JP","TH"],
    "header": {"title": "Cuulative Mortality (%)", "labels": false, "titleFontSize": 29, "titleFont": "Liberation Sans", "titleFontWeight": "normal", "titleColor": "black", "titlePadding": -3}},
  "column": {"field": "g", "type": "nominal", "sort": ["R","P"], "header": {"title": null, "labels": false}}
},
"spacing": {"row": 25, "column": 18},
"spec": {
  "width": 371,
  "height": 254,
  "layer": [
    {"transform": [{"filter": "isValid(datum.f)"}],
     "mark": {"type": "line", "color": "black", "strokeWidth": 1, "interpolate": "monotone"},
     "encoding": {
       "x": {"field": "d", "type": "quantitative", "scale": {"domain": [0, 80], "nice": false}, "axis": {"values": [0,20,40,60,80], "title": null, "labelFontSize": 18, "labelPadding": 5}},
       "y": {"field": "f", "type": "quantitative", "scale": {"domain": [0, 100], "nice": false}, "axis": {"values": [0,20,40,60,80,100], "title": null}}
     }},
    {"transform": [{"filter": "isValid(datum.m)"}],
     "mark": {"type": "circle", "color": "black", "opacity": 1, "size": 60},
     "encoding": {
       "x": {"field": "d", "type": "quantitative", "scale": {"domain": [0, 80], "nice": false}, "axis": {"values": [0,20,40,60,80], "title": null, "labelFontSize": 18, "labelPadding": 5}},
       "y": {"field": "m", "type": "quantitative", "scale": {"domain": [0, 100], "nice": false}, "axis": {"values": [0,20,40,60,80,100], "title": null}}
     }},
    {"transform": [{"filter": "isValid(datum.t)"}],
     "mark": {"type": "text", "align": "left", "baseline": "top", "fontSize": 24, "font": "Liberation Sans", "color": "black"},
     "encoding": {
       "x": {"datum": 2.2, "type": "quantitative"},
       "y": {"datum": 97.5, "type": "quantitative"},
       "text": {"field": "t", "type": "nominal"}
     }}
  ]
},
"config": {
  "view": {"stroke": "black", "strokeWidth": 1},
  "font": "Liberation Sans",
  "axis": {"grid": false, "domain": false, "ticks": true, "tickColor": "black", "tickSize": 5, "labelColor": "black", "labelFont": "Liberation Sans", "labelFontSize": 16, "labelPadding": 4, "labelFlush": false, "labelOverlap": false}
}
}
